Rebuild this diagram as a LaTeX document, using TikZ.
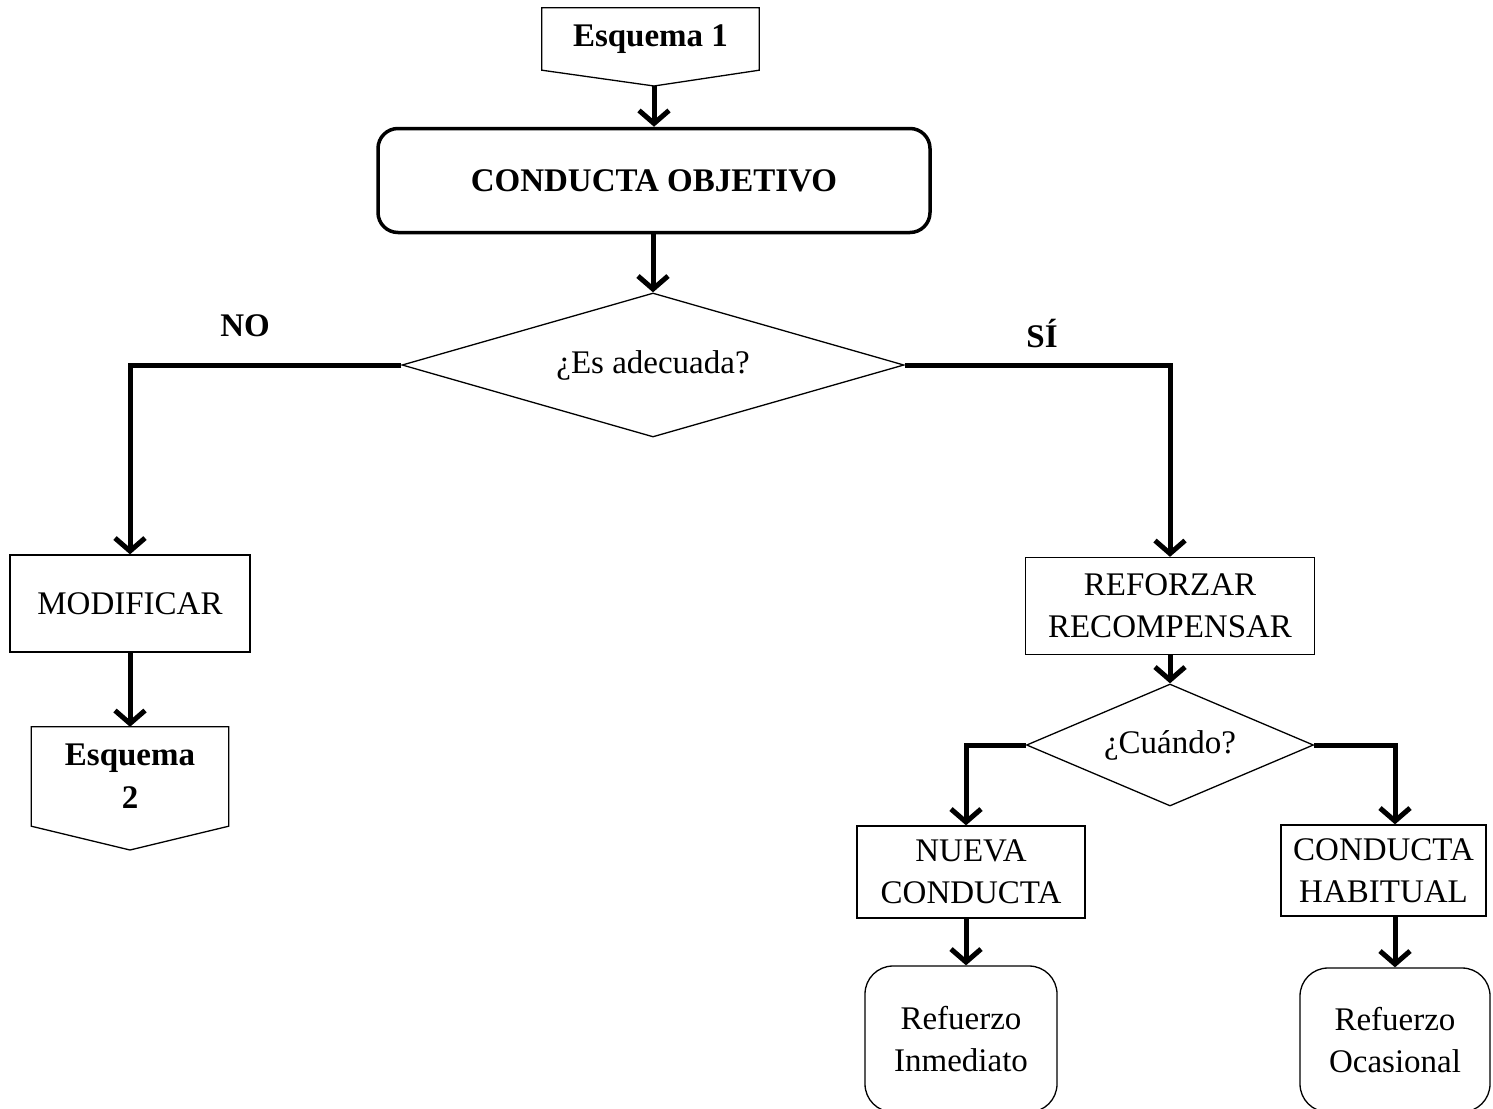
\documentclass[tikz,border=0pt]{standalone}
\usepackage{fontspec}
\setmainfont{Liberation Serif}
\usetikzlibrary{arrows.meta,shapes.geometric}
\begin{document}
\begin{tikzpicture}[x=1pt,y=-1pt,
  txt/.style={font=\fontsize{33}{42}\selectfont, align=center, inner sep=0pt},
  btxt/.style={font=\fontsize{33}{43}\selectfont\bfseries, align=center, inner sep=0pt},
  thin/.style={draw, line width=1.3pt},
  arr/.style={line width=5pt, line join=miter, -{Straight Barb[length=13pt,width=30pt,line width=5pt]}},
  ]
\clip (0,0) rectangle (1493,1108);
\fill[white] (0,0) rectangle (1493,1108);

% Esquema 1 (off-page connector)
\node[btxt, minimum width=217, minimum height=62] (e1) at (650.5,39) {Esquema 1};
\coordinate (e1tip) at (654,86);
\draw[line width=1.3pt] (e1.north west) -- (e1.north east) -- (e1.south east) -- (e1tip) -- (e1.south west) -- cycle;

% Conducta objetivo
\node[btxt, draw, line width=3.5pt, rounded corners=20pt, minimum width=552, minimum height=104] (cobj) at (654,180.5) {CONDUCTA OBJETIVO};

% Diamond 1
\node[txt, diamond, thin, aspect=3.49, minimum width=502, minimum height=144] (d1) at (653,365) {¿Es adecuada?};

\node[btxt] (no) at (245,326) {NO};
\node[btxt] (si) at (1042,334) {SÍ};

% Left branch
\node[txt, thin, minimum width=240, minimum height=97] (mod) at (130,603.5) {MODIFICAR};
\node[btxt, minimum width=197, minimum height=99] (e2) at (130,776.5) {Esquema\\2};
\coordinate (e2tip) at (130,850);
\draw[line width=1.3pt] (e2.north west) -- (e2.north east) -- (e2.south east) -- (e2tip) -- (e2.south west) -- cycle;

% Right branch
\node[txt, thin, minimum width=289, minimum height=97] (ref) at (1170,606) {REFORZAR\\RECOMPENSAR};
\node[txt, diamond, thin, aspect=2.35, minimum width=287, minimum height=122] (d2) at (1170,745) {¿Cuándo?};

\node[txt, thin, minimum width=228, minimum height=92] (nue) at (971,872) {NUEVA\\CONDUCTA};
\node[txt, thin, minimum width=205, minimum height=91] (hab) at (1383.5,870.5) {CONDUCTA\\HABITUAL};

\node[txt, thin, rounded corners=28pt, minimum width=192, minimum height=146] (ri) at (961,1039) {Refuerzo\\Inmediato};
\node[txt, thin, rounded corners=28pt, minimum width=190, minimum height=144] (ro) at (1395,1040) {Refuerzo\\Ocasional};

% Connectors
\draw[arr] (e1tip) -- (e1tip |- cobj.north);
\draw[arr] (cobj.south -| d1.north) -- (d1.north);
\draw[arr] (d1.west) -| (mod.north);
\draw[arr] (mod.south) -- (e2.north);
\draw[arr] (d1.east) -| (ref.north);
\draw[arr] (ref.south) -- (d2.north);
\draw[arr] (d2.west) -| ([xshift=-5pt]nue.north);
\draw[arr] (d2.east) -| (hab.north -| ro.north);
\draw[arr] ([xshift=-5pt]nue.south) -- ([xshift=5pt]ri.north);
\draw[arr] (hab.south -| ro.north) -- (ro.north);
\end{tikzpicture}
\end{document}
